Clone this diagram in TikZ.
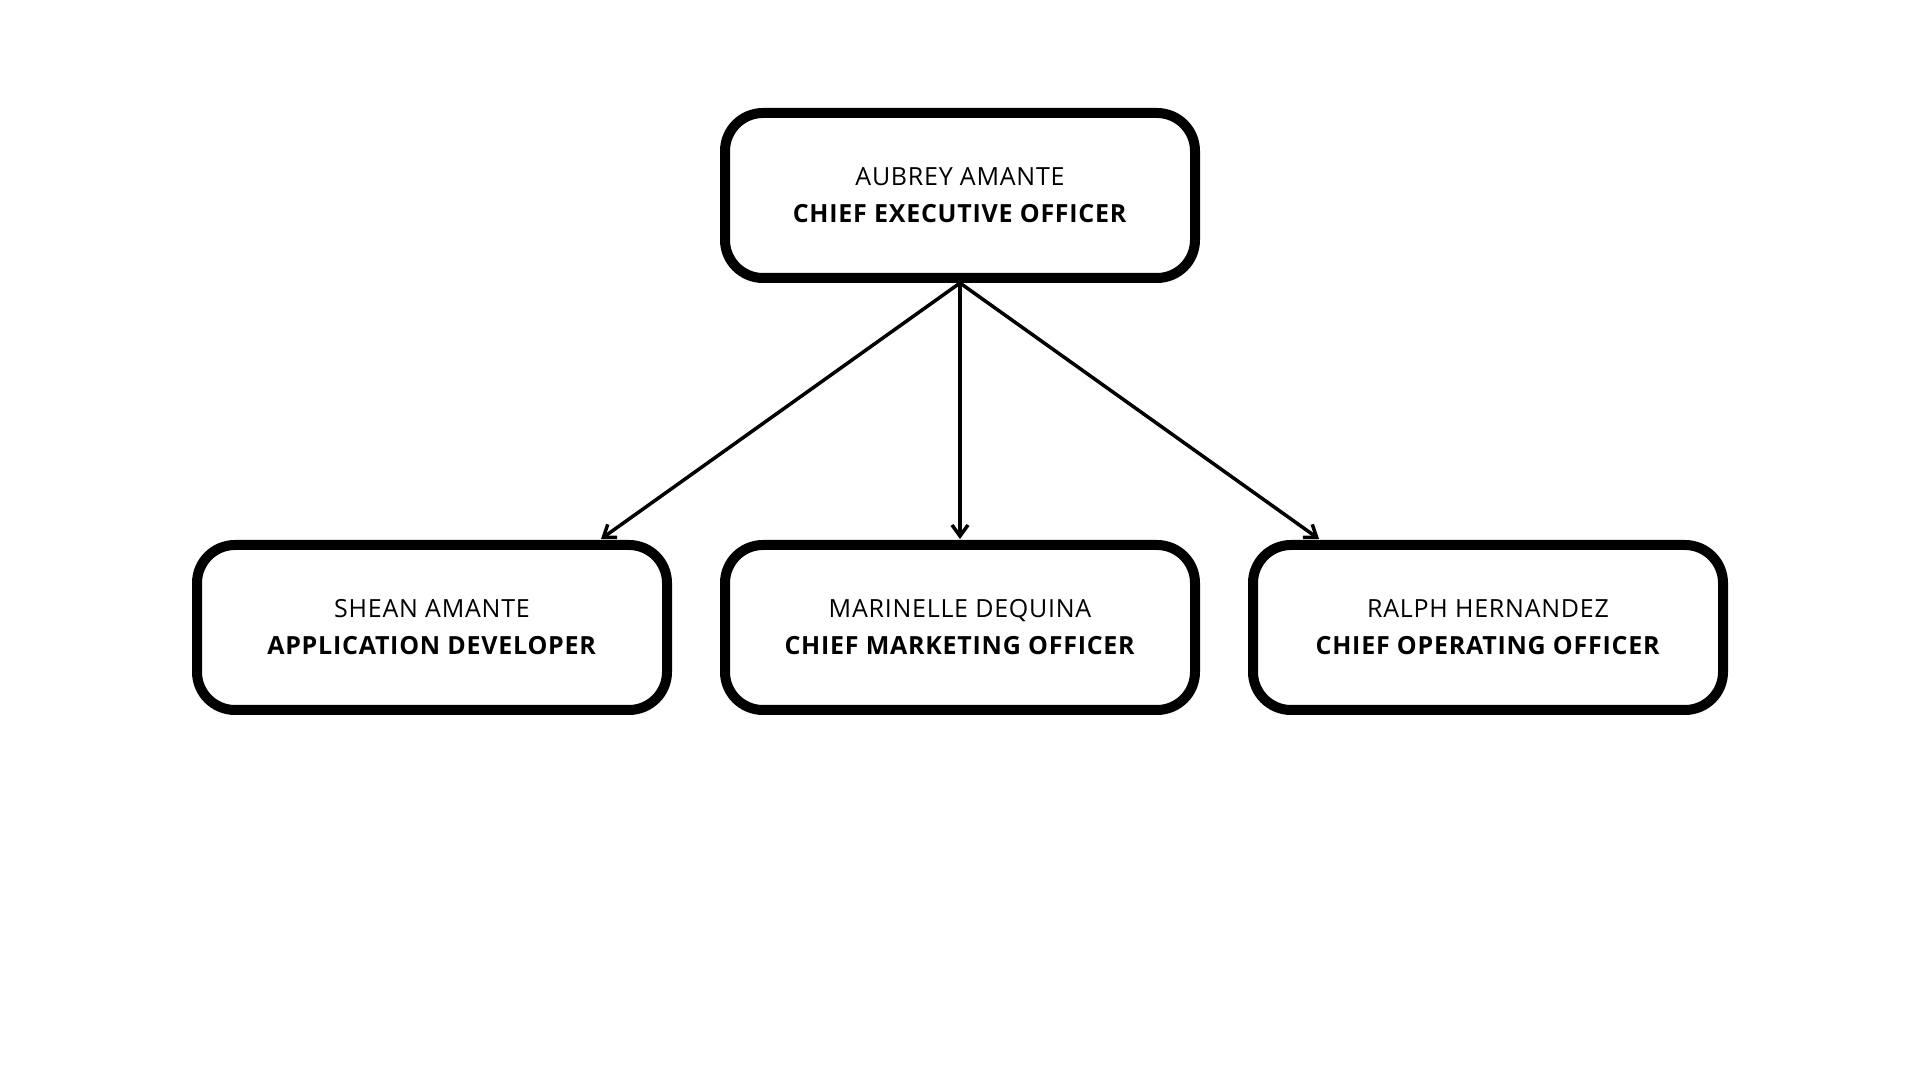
\documentclass[tikz,border=0pt]{standalone}
\usepackage{fontspec}
\setmainfont{Open Sans}[LetterSpace=3]
\usetikzlibrary{arrows.meta,positioning}

\begin{document}
\begin{tikzpicture}[x=1pt, y=1pt, every node/.style={
    rectangle,
    rounded corners=38pt,
    draw,
    line width=10pt,
    fill=white,
    minimum width=470pt,
    minimum height=165pt,
    align=center,
    font=\fontsize{25}{37}\selectfont
}]
    \useasboundingbox (0, 0) rectangle (1920, 1080);
    \node (aubrey_amante) at (960, 884.5)
    {
        AUBREY AMANTE\\\textbf{CHIEF EXECUTIVE OFFICER}
    };
    \node (shean_amante) at (432, 452.5)
    {
        SHEAN AMANTE\\\textbf{APPLICATION DEVELOPER}
    };
    \node (marinelle_dequina) at (960, 452.5)
    {
        MARINELLE DEQUINA\\\textbf{CHIEF MARKETING OFFICER}
    };
    \node (ralph_hernandez) at (1488, 452.5)
    {
        RALPH HERNANDEZ\\\textbf{CHIEF OPERATING OFFICER}
    };
    \draw[-{Straight Barb[length=11pt, width=16pt]}, line width=3.5pt] (aubrey_amante.south) to ([xshift=169pt, yshift=1pt]shean_amante.north);
    \draw[-{Straight Barb[length=11pt, width=16pt]}, line width=3.5pt] (aubrey_amante.south) to ([yshift=1pt]marinelle_dequina.north);
    \draw[-{Straight Barb[length=11pt, width=16pt]}, line width=3.5pt] (aubrey_amante.south) to ([xshift=-169pt, yshift=1pt]ralph_hernandez.north);
\end{tikzpicture}
\end{document}
